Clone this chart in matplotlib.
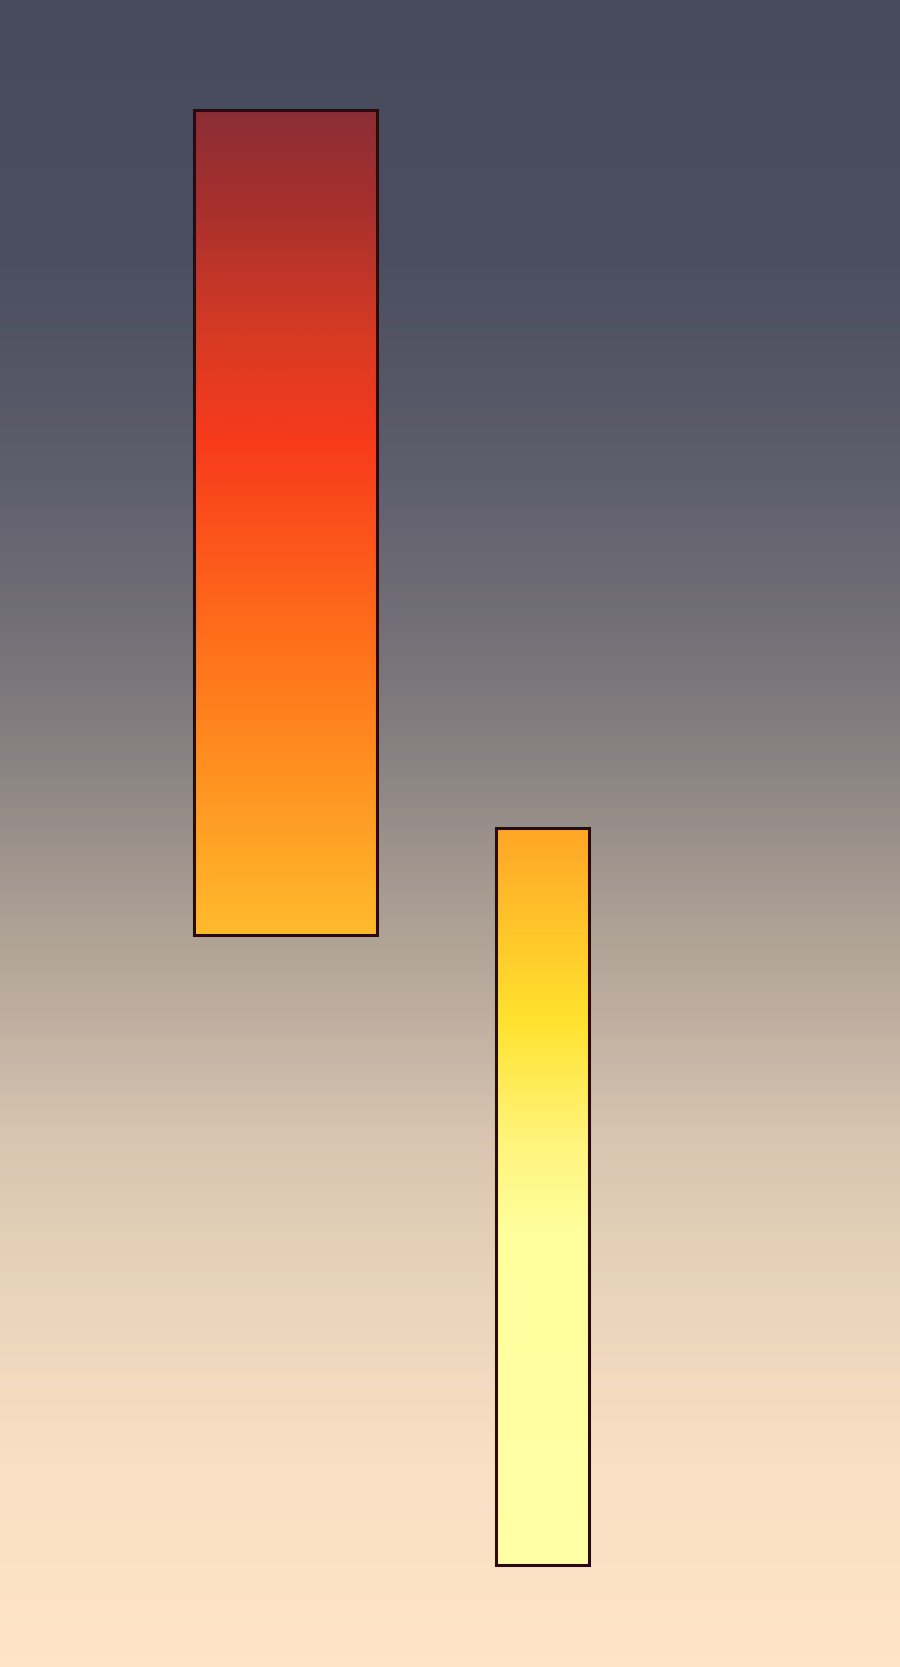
"""Floating range bars with vertical gradient fills over a dusk-coloured backdrop."""

import matplotlib

matplotlib.use("Agg")

import matplotlib.pyplot as plt
import numpy as np
from matplotlib.colors import LinearSegmentedColormap

# data: each bar spans low..high on a 0-100 scale
categories = ["first", "second"]
lows = [43.9, 6.1]
highs = [93.4, 50.3]

# styling
x_pos = [0.317, 0.603]
widths = [0.204, 0.104]
edge = "#2a0a0c"

bar_stops = [
    [(0.0, "#8b2e35"), (0.12, "#a8302c"), (0.27, "#d63a24"), (0.40, "#f83a1c"),
     (0.62, "#ff6a1a"), (0.8, "#ff9020"), (1.0, "#ffbb2e")],
    [(0.0, "#ffa626"), (0.26, "#ffe22e"), (0.42, "#fff47a"), (0.55, "#ffff9e"),
     (1.0, "#ffffa6")],
]
bg_stops = [(0.0, "#474b5d"), (0.15, "#4a4e5f"), (0.27, "#5c5c6a"), (0.38, "#737078"),
            (0.46, "#8c8483"), (0.55, "#aba094"), (0.62, "#c2b2a2"), (0.68, "#d8c4b0"),
            (0.78, "#ead5ba"), (0.88, "#f9e0c4"), (1.0, "#ffe4c6")]


def main() -> None:
    fig = plt.figure(figsize=(9, 16.67), dpi=100)
    ax = fig.add_axes([0, 0, 1, 1])
    ax.axis("off")

    # row 0 of the gradient sits at the top of the figure
    grad = np.linspace(0, 1, 512).reshape(-1, 1)
    bg_cmap = LinearSegmentedColormap.from_list("bg", bg_stops)
    ax.imshow(grad, cmap=bg_cmap, aspect="auto", extent=(0, 1, 0, 100),
              origin="upper", zorder=0)

    bars = ax.bar(x_pos, np.array(highs) - np.array(lows), width=widths,
                  bottom=lows, facecolor="none", edgecolor=edge, linewidth=2.2,
                  zorder=3)

    for rect, stops, lo, hi in zip(bars, bar_stops, lows, highs):
        cmap = LinearSegmentedColormap.from_list("bar", stops)
        x0 = rect.get_x()
        x1 = x0 + rect.get_width()
        img = ax.imshow(grad, cmap=cmap, aspect="auto",
                        extent=(x0, x1, lo, hi), origin="upper", zorder=2)
        img.set_clip_path(rect)

    ax.set_xlim(0, 1)
    ax.set_ylim(0, 100)
    fig.savefig("out.png", dpi=100)
    plt.close(fig)


if __name__ == "__main__":
    main()
